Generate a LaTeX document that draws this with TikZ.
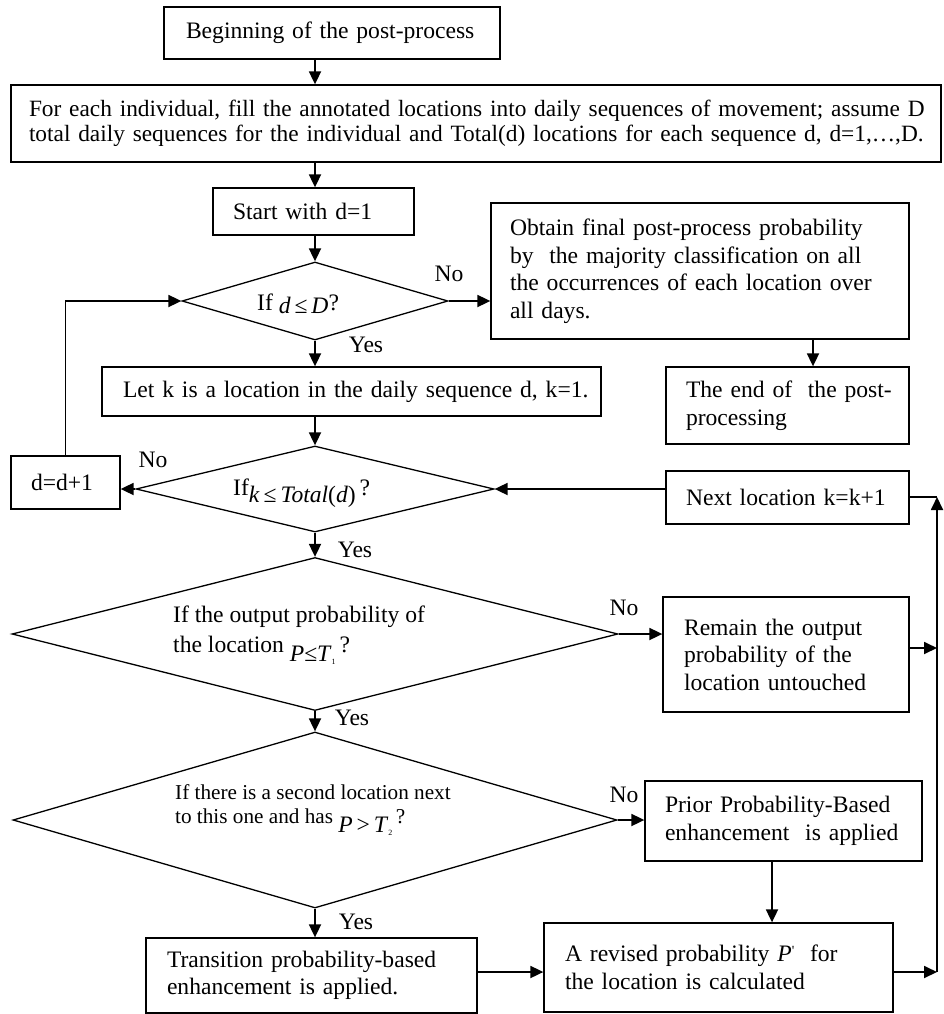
\documentclass[tikz,border=0pt]{standalone}
\usepackage{fontspec}
\setmainfont{Liberation Serif}
\usetikzlibrary{arrows.meta,shapes.geometric,calc}
\newcommand\fA{\fontsize{23.6pt}{27.5pt}\selectfont}
\newcommand\fB{\fontsize{21.2pt}{24pt}\selectfont}
\newcommand\fC{\fontsize{23.35pt}{25pt}\selectfont}
\newcommand\tinyidx[1]{\raisebox{-3pt}{\fontsize{8pt}{8pt}\selectfont #1}}
\begin{document}
\begin{tikzpicture}[x=1pt,y=-1pt,
  bx/.style={draw, line width=1.3pt, inner ysep=0pt, inner xsep=20pt, align=left, font=\fA},
  dia/.style={draw, diamond, line width=1.3pt, inner sep=0pt},
  arr/.style={-{Triangle[length=13pt,width=12pt]}, line width=1.8pt},
  ln/.style={line width=1.8pt},
  lbl/.style={font=\fA, anchor=base, inner sep=0pt},
  dtxt/.style={font=\fA, anchor=base west, inner sep=0pt}]
\useasboundingbox (0,0) rectangle (944,1014);

% boxes
\node[bx, inner xsep=22pt, text width=292pt, minimum height=52pt] (beg) at (332,33) {Beginning of the post-process};
\node[bx, font=\fC, inner xsep=18pt, text width=894pt, minimum height=77pt] (fill) at (476,123.5)
  {\mbox{For each individual, fill the annotated locations into daily sequences of movement; assume D}\\
   \mbox{total daily sequences for the individual and Total(d) locations for each sequence d, d=1,\ldots,D.}};
\node[bx, text width=161pt, minimum height=47pt] (start) at (313.5,211.5) {Start with d=1};
\node[bx, inner xsep=19pt, text width=380pt, minimum height=136pt] (obtain) at (700,271)
  {Obtain final post-process probability\\by\ \ the majority classification on all\\the occurrences of each location over\\all days.};
\node[dia, minimum width=266pt, minimum height=78pt] (d1) at (315,301) {};
\node[bx, inner xsep=21pt, text width=457pt, minimum height=49pt] (let) at (351.5,391.5) {\mbox{Let k is a location in the daily sequence d, k=1.}};
\node[bx, text width=203pt, minimum height=77pt] (end) at (787.5,405.5) {\mbox{The end of\ \ the post-}\\processing};
\node[bx, text width=69pt, minimum height=53pt] (dd) at (65.5,482.5) {d=d+1};
\node[dia, minimum width=358pt, minimum height=86pt] (d2) at (315,489) {};
\node[bx, text width=203pt, minimum height=53pt] (next) at (787.5,497.5) {\mbox{Next location k=k+1}};
\node[dia, minimum width=606pt, minimum height=153pt] (d3) at (315,634) {};
\node[bx, inner xsep=21pt, text width=204pt, minimum height=115pt] (remain) at (786,654.5) {Remain the output\\probability of the\\location untouched};
\node[dia, minimum width=604pt, minimum height=176pt] (d4) at (315,820) {};
\node[bx, text width=237pt, minimum height=80pt] (prior) at (783.5,821) {\mbox{Prior Probability-Based}\\\mbox{enhancement\ \ is applied}};
\node[bx, inner xsep=21pt, text width=289pt, minimum height=75pt] (trans) at (311.5,975.5) {Transition probability-based\\enhancement is applied.};
\node[bx, inner xsep=21pt, text width=307pt, minimum height=89pt] (rev) at (718.5,967.5)
  {\mbox{A revised probability \textit{P}\raisebox{6pt}{\fontsize{14pt}{14pt}\selectfont\textquotesingle}\ \ for}\\the location is calculated};

% diamond texts
\node[dtxt] (d1t) at (257,310) {If \raisebox{-3pt}{\textit{d}\,≤\,\textit{D}}?};
\node[dtxt] (d2t) at (233,495) {If\raisebox{-7pt}{\textit{k}\,≤\,\textit{Total}(\textit{d})}\,?};
\node[dtxt] (d3a) at (173,622) {If the output probability of};
\node[dtxt] (d3b) at (173,652) {the location \raisebox{-9pt}{\textit{P}≤\textit{T}\tinyidx{1}}\,?};
\node[dtxt, font=\fB] (d4a) at (175,799) {If there is a second location next};
\node[dtxt, font=\fB] (d4b) at (175,823) {to this one and has \raisebox{-9pt}{\fA\textit{P}\,>\,\textit{T}\tinyidx{2}}\,?};

% labels
\node[lbl] (n1) at (449,281) {No};
\node[lbl] (y1) at (366,352) {Yes};
\node[lbl] (n2) at (153,467) {No};
\node[lbl] (y2) at (355,557) {Yes};
\node[lbl] (n3) at (624,615) {No};
\node[lbl] (y3) at (352,725) {Yes};
\node[lbl] (n4) at (624,802) {No};
\node[lbl] (y4) at (356,929) {Yes};

% helper coordinates
\coordinate (oa) at (813,0);
\coordinate (pa) at (772,0);
\coordinate (rlt) at (937,497);
\coordinate (ra) at (937,648);
\coordinate (rlb) at (937,972);

% connectors
\draw[arr] (beg.south -| d1.north) -- (fill.north -| d1.north);
\draw[arr] (fill.south -| d1.north) -- (start.north -| d1.north);
\draw[arr] (start.south -| d1.north) -- (d1.north);
\draw[arr] (d1.east) -- (d1.east -| obtain.west);
\draw[arr] (obtain.south -| oa) -- (end.north -| oa);
\draw[arr] (d1.south) -- (let.north -| d1.south);
\draw[arr] (let.south -| d2.north) -- (d2.north);
\draw[arr] (d2.west) -- (d2.west -| dd.east);
\draw[arr] (dd.north) |- (d1.west);
\draw[arr] (next.west |- d2.east) -- (d2.east);
\draw[arr] (d2.south) -- (d3.north);
\draw[arr] (d3.east) -- (d3.east -| remain.west);
\draw[arr] (d3.south) -- (d4.north);
\draw[arr] (d4.east) -- (d4.east -| prior.west);
\draw[arr] (d4.south) -- (trans.north -| d4.south);
\draw[arr] (prior.south -| pa) -- (rev.north -| pa);
\draw[arr] (trans.east |- rlb) -- (rev.west |- rlb);
\draw[arr] (rev.east |- rlb) -- (rlb);
\draw[arr] (remain.east |- ra) -- (ra);
\draw[arr] (rlb) -- (rlt);
\draw[ln] (next.east |- rlt) -- (rlt);
\end{tikzpicture}
\end{document}
